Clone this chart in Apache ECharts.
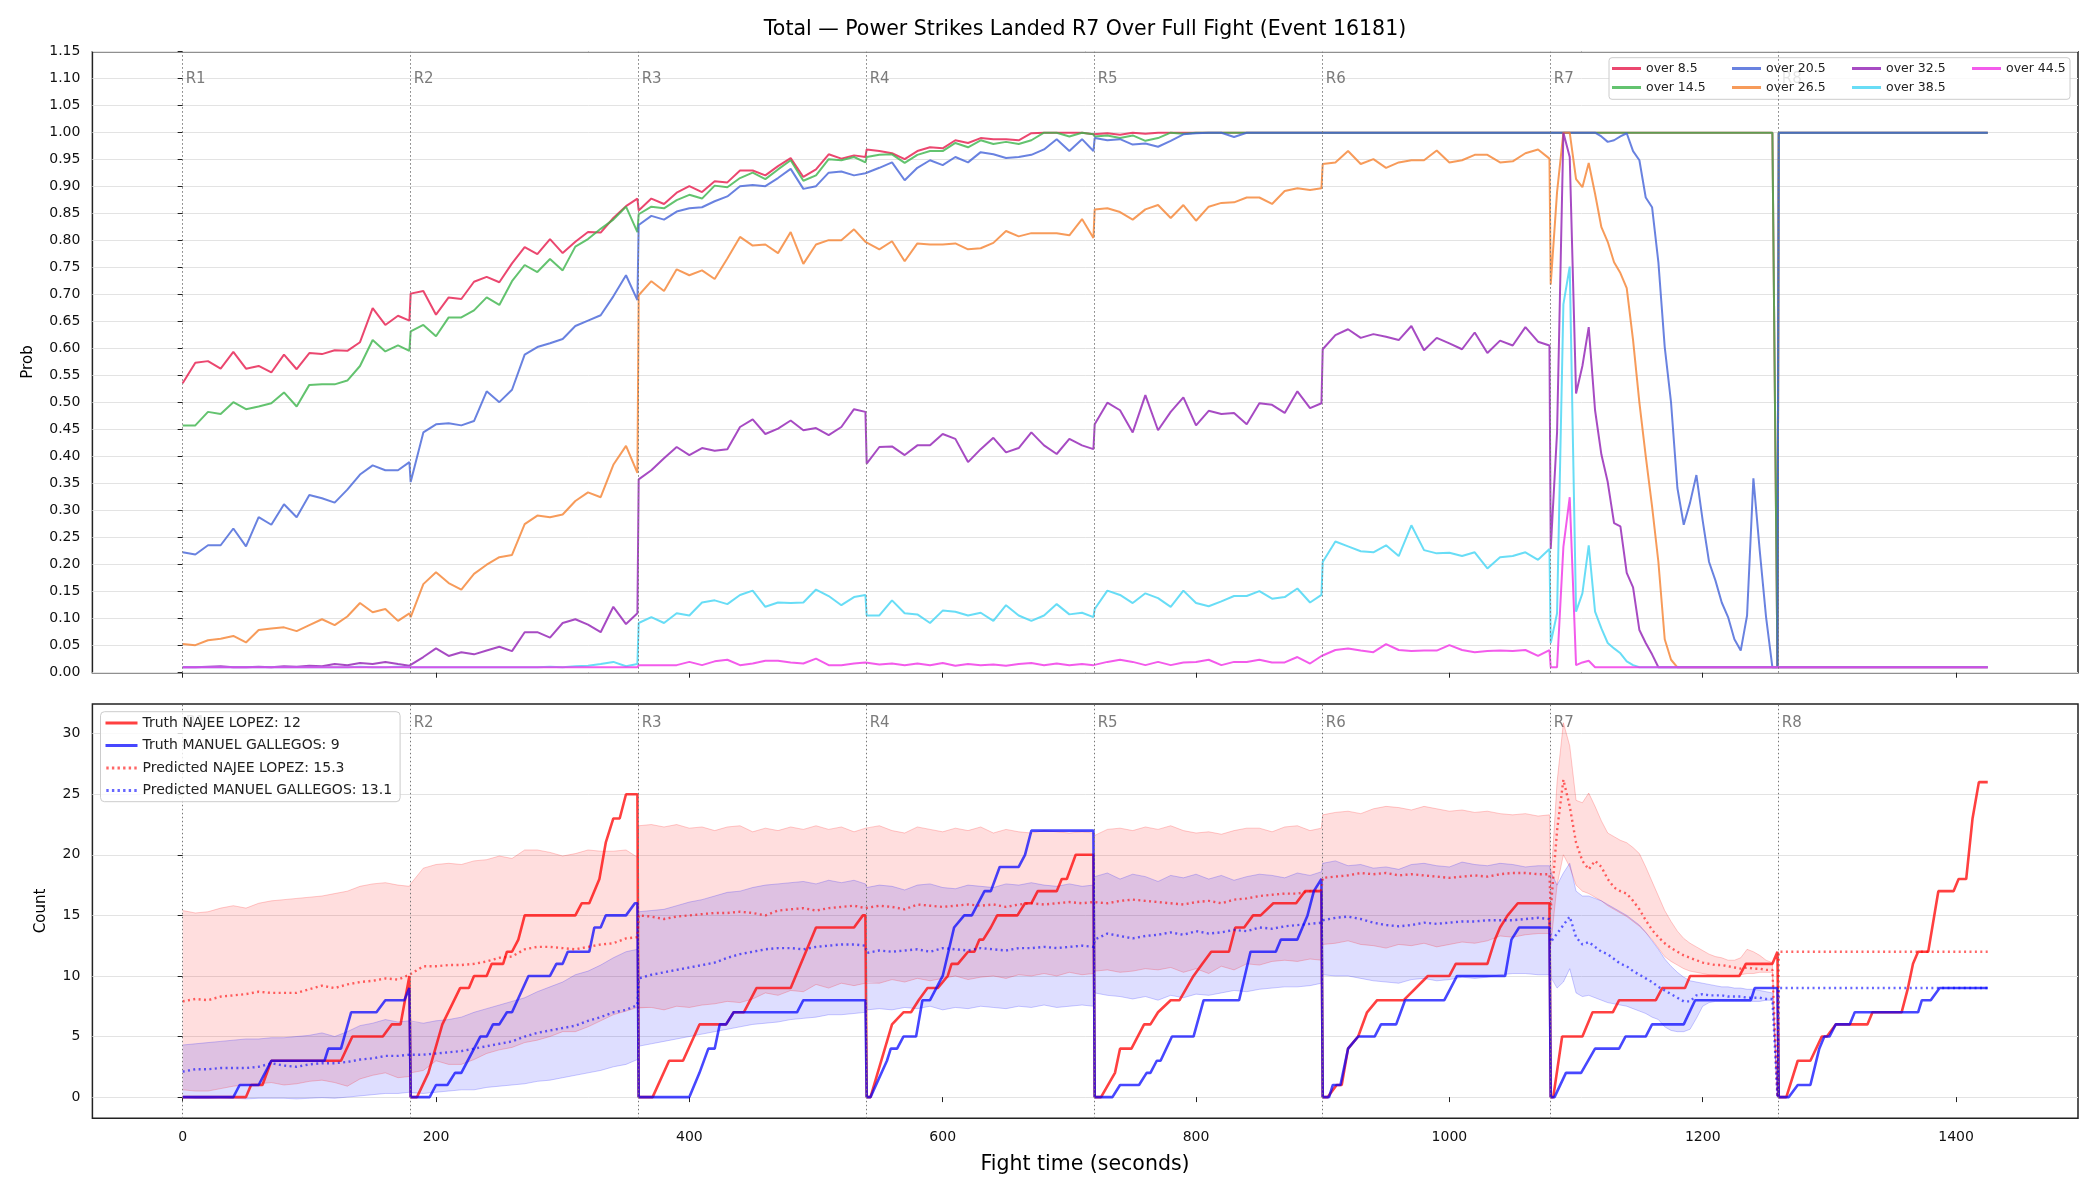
<!DOCTYPE html>
<html><head><meta charset="utf-8">
<script src="https://cdn.jsdelivr.net/npm/echarts@6.0.0/dist/echarts.min.js"></script>
<style>html,body{margin:0;padding:0;background:#fff}#c{width:2100px;height:1200px}</style>
</head><body><div id="c"></div>
<script>
const FONT = 'DejaVu Sans';
const roundStarts = [0,180,360,540,720,900,1080,1260];
const roundLabels = ['R1','R2','R3','R4','R5','R6','R7','R8'];
const xTicks = [0,200,400,600,800,1000,1200,1400];
const countTicks = [0,5,10,15,20,25,30];

// sample times (seconds) for probability / prediction curves
const tProb = [
 0,10,20,30,40,50,60,70,80,90,100,110,120,130,140,150,160,170,179,
 180,190,200,210,220,230,240,250,260,270,280,290,300,310,320,330,340,350,359,
 360,370,380,390,400,410,420,430,440,450,460,470,480,490,500,510,520,530,539,
 540,550,560,570,580,590,600,610,620,630,640,650,660,670,680,690,700,710,719,
 720,730,740,750,760,770,780,790,800,810,820,830,840,850,860,870,880,890,899,
 900,910,920,930,940,950,960,970,980,990,1000,1010,1020,1030,1040,1050,1060,1070,1079,
 1080,1085,1090,1095,1100,1105,1110,1115,1120,1125,1130,1135,1140,1145,1150,1155,1160,1165,1170,1175,
 1180,1185,1190,1195,1200,1205,1210,1215,1220,1225,1230,1235,1240,1245,1250,1255,1259,
 1260,1270,1280,1290,1300,1310,1320,1330,1340,1350,1360,1370,1380,1390,1400,1410,1420,1425
];

const over8_5 = [
 .536,.574,.577,.563,.594,.563,.568,.556,.589,.562,.592,.590,.597,.596,.612,.675,.644,.661,.652,
 .702,.707,.663,.695,.692,.724,.733,.723,.758,.788,.775,.803,.777,.798,.816,.815,.842,.864,.878,
 .856,.878,.868,.889,.901,.890,.910,.908,.930,.930,.921,.938,.953,.918,.932,.960,.952,.958,.955,
 .969,.966,.962,.951,.966,.973,.971,.986,.981,.990,.988,.988,.986,.999,1,1,1,1,.997,
 1,.999,.996,1,.998,1,1,1,1,1, 1,1,1,1,1,1,1,1,1,
 1,1,1,1,1,1,1,1,1,1, 1,1,1,1,1,1,1,1,1,
 1,1,1,1,1,1,1,1,1,1, 1,1,1,1,1,1,1,1,1,1, 1,1,1,1,1,1,1,1,1,1, 1,1,1,1,1,1,.01,
 1,1,1,1,1,1,1,1,1,1, 1,1,1,1,1,1,1,1
];
const over14_5 = [
 .458,.458,.483,.479,.501,.488,.493,.499,.519,.493,.533,.534,.534,.541,.568,.616,.595,.606,.596,
 .632,.644,.623,.658,.658,.671,.695,.681,.725,.755,.742,.766,.745,.789,.803,.822,.839,.863,.816,
 .849,.863,.860,.875,.885,.878,.902,.899,.916,.926,.914,.932,.949,.911,.921,.951,.949,.955,.945,
 .955,.959,.960,.944,.959,.966,.966,.981,.973,.986,.979,.983,.979,.986,1,1,.993,1,.997,
 .993,.995,.990,.995,.985,.990,1,.998,1,1, 1,1,1,1,1,1,1,1,1,
 1,1,1,1,1,1,1,1,1,1, 1,1,1,1,1,1,1,1,1,
 1,1,1,1,1,1,1,1,1,1, 1,1,1,1,1,1,1,1,1,1, 1,1,1,1,1,1,1,1,1,1, 1,1,1,1,1,1,.01,
 1,1,1,1,1,1,1,1,1,1, 1,1,1,1,1,1,1,1
];
const over20_5 = [
 .223,.219,.236,.236,.267,.234,.288,.274,.312,.288,.329,.323,.315,.339,.367,.384,.375,.375,.390,
 .353,.445,.460,.462,.458,.466,.521,.501,.524,.589,.603,.610,.618,.642,.652,.662,.697,.736,.690,
 .829,.846,.839,.854,.860,.862,.873,.882,.901,.903,.901,.916,.933,.896,.901,.926,.928,.921,.925,
 .928,.935,.945,.912,.935,.949,.940,.955,.945,.964,.960,.953,.955,.959,.969,.988,.966,.988,.966,
 .990,.986,.988,.978,.980,.974,.985,.997,.999,1,1,.992,1,1,1,1,1,1,1,
 1,1,1,1,1,1,1,1,1,1, 1,1,1,1,1,1,1,1,1,
 1,1,1,1,1,1,1,1,.993,.983,.986,.993,.999,.966,.949,.880,.862,.760,.603,.500,
 .342,.274,.315,.366,.281,.205,.171,.130,.103,.062,.041,.106,.360,.226,.103,.01,.01,
 1,1,1,1,1,1,1,1,1,1, 1,1,1,1,1,1,1,1
];
const over26_5 = [
 .053,.051,.060,.063,.068,.056,.079,.082,.084,.077,.088,.099,.088,.104,.129,.112,.118,.096,.110,
 .103,.164,.186,.166,.154,.183,.200,.214,.218,.275,.291,.288,.293,.318,.334,.325,.385,.420,.370,
 .699,.725,.707,.747,.736,.745,.729,.767,.807,.791,.793,.777,.816,.757,.793,.801,.801,.821,.798,
 .801,.784,.799,.762,.795,.793,.793,.795,.784,.786,.796,.818,.808,.814,.814,.814,.810,.840,.805,
 .858,.860,.853,.839,.858,.866,.842,.866,.837,.863,.870,.871,.880,.880,.868,.892,.897,.894,.897,
 .942,.945,.966,.942,.951,.935,.945,.949,.949,.967,.945,.949,.959,.959,.945,.947,.962,.969,.952,
 .719,.890,1,1,.914,.899,.944,.887,.825,.798,.760,.740,.712,.616,.500,.401,.308,.205,.062,.024,
 .01,.01,.01,.01,.01,.01,.01,.01,.01,.01, .01,.01,.01,.01,.01,.01,.01,
 .01,.01,.01,.01,.01,.01,.01,.01,.01,.01, .01,.01,.01,.01,.01,.01,.01,.01
];
const over32_5 = [
 .010,.010,.011,.012,.010,.010,.011,.010,.012,.011,.013,.012,.016,.014,.018,.016,.020,.016,.013,
 .014,.029,.045,.031,.038,.034,.041,.048,.040,.075,.075,.065,.092,.099,.089,.075,.122,.090,.110,
 .358,.375,.397,.418,.403,.416,.411,.414,.455,.469,.442,.452,.467,.449,.453,.440,.455,.488,.483,
 .387,.418,.419,.403,.421,.421,.442,.433,.390,.414,.435,.408,.416,.445,.421,.405,.433,.421,.414,
 .460,.500,.486,.445,.514,.449,.483,.510,.458,.485,.479,.481,.460,.499,.496,.481,.521,.490,.499,
 .599,.625,.636,.620,.627,.622,.616,.642,.597,.620,.610,.599,.630,.592,.615,.606,.640,.613,.606,
 .229,.445,1,.955,.517,.568,.640,.486,.404,.353,.277,.271,.185,.158,.079,.055,.034,.01,
 .01,.01,.01,.01,.01,.01,.01,.01,.01,.01, .01,.01,.01,.01,.01,.01,.01,.01,.01,
 .01,.01,.01,.01,.01,.01,.01,.01,.01,.01, .01,.01,.01,.01,.01,.01,.01,.01
];
const over38_5 = [
 .010,.010,.010,.010,.010,.010,.010,.010,.010,.010,.010,.010,.010,.010,.011,.010,.010,.011,.010,
 .010,.010,.010,.010,.010,.010,.010,.010,.010,.010,.010,.011,.010,.012,.013,.016,.020,.012,.016,
 .092,.103,.092,.110,.106,.130,.134,.127,.144,.152,.122,.130,.129,.130,.154,.142,.125,.140,.144,
 .106,.106,.134,.110,.108,.092,.115,.113,.106,.111,.096,.125,.106,.096,.106,.127,.108,.111,.103,
 .118,.152,.144,.129,.147,.138,.122,.152,.129,.123,.132,.142,.142,.151,.137,.140,.156,.130,.144,
 .205,.243,.234,.225,.223,.236,.216,.273,.227,.221,.222,.216,.223,.193,.214,.216,.223,.209,.229,
 .055,.110,.682,.752,.113,.147,.236,.113,.082,.055,.045,.036,.021,.014,
 .01,.01,.01,.01,.01,.01,.01,.01,.01,.01, .01,.01,.01,.01,.01,.01,.01,.01,.01,.01, .01,.01,.01,
 .01,.01,.01,.01,.01,.01,.01,.01,.01,.01, .01,.01,.01,.01,.01,.01,.01,.01
];
const over44_5 = [
 .010,.010,.010,.010,.010,.010,.010,.010,.010,.010,.010,.010,.010,.010,.010,.010,.010,.010,.010,
 .010,.010,.010,.010,.010,.010,.010,.010,.010,.010,.010,.010,.010,.010,.010,.010,.010,.010,.010,
 .014,.014,.014,.014,.020,.014,.021,.024,.014,.017,.022,.022,.019,.017,.026,.014,.014,.017,.019,
 .017,.015,.017,.014,.017,.014,.018,.013,.016,.014,.015,.013,.016,.018,.014,.017,.014,.016,.014,
 .014,.020,.024,.020,.014,.020,.014,.019,.020,.024,.014,.020,.020,.024,.019,.019,.029,.017,.031,
 .034,.042,.045,.041,.038,.053,.042,.040,.041,.041,.051,.042,.038,.040,.041,.040,.042,.031,.042,
 .01,.01,.233,.325,.014,.019,.022,.01,
 .01,.01,.01,.01,.01,.01,.01,.01,.01,.01, .01,.01,.01,.01,.01,.01,.01,.01,.01,.01, .01,.01,.01,.01,.01,.01,.01,.01,.01,
 .01,.01,.01,.01,.01,.01,.01,.01,.01,.01, .01,.01,.01,.01,.01,.01,.01,.01
];

// predicted totals (R1-R7 on tProb grid, then R8 points)
const tPredR8 = [1260, 1425];
const predLopez = [
 7.9,8.1,8.0,8.3,8.4,8.5,8.7,8.6,8.6,8.6,8.9,9.2,9.0,9.3,9.5,9.6,9.8,9.7,10.1,
 10.2,10.8,10.8,10.9,10.9,11.0,11.2,11.5,11.6,12.2,12.4,12.4,12.3,12.2,12.4,12.6,12.7,13.1,13.2,
 15.0,14.9,14.7,14.9,15.0,15.1,15.2,15.2,15.3,15.2,15.0,15.4,15.5,15.6,15.4,15.6,15.7,15.8,15.6,
 15.6,15.8,15.7,15.5,15.9,15.8,15.7,15.8,15.9,15.8,15.9,15.7,15.9,16.0,15.9,16.0,16.1,16.0,16.1,
 16.1,16.0,16.2,16.3,16.2,16.1,16.0,15.9,16.1,16.2,16.0,16.3,16.4,16.6,16.7,16.8,16.8,17.0,17.1,
 18.1,18.2,18.3,18.5,18.4,18.5,18.3,18.4,18.3,18.2,18.1,18.2,18.3,18.2,18.4,18.5,18.5,18.4,18.4,
 15.5,22.0,26.2,24.0,21.0,19.5,18.8,19.5,19.0,18.0,17.3,17.0,16.8,16.2,15.5,14.6,13.8,13.2,12.7,12.3,
 12.0,11.7,11.5,11.3,11.1,11.0,10.9,10.9,10.8,10.7,10.6,10.7,10.6,10.6,10.5,10.5,0,
 12,12
];
const predGallegos = [
 2.1,2.3,2.3,2.4,2.4,2.4,2.5,2.8,2.6,2.5,2.7,2.8,2.8,2.9,3.1,3.2,3.4,3.4,3.5,
 3.5,3.5,3.6,3.7,3.8,4.0,4.2,4.4,4.6,5.0,5.3,5.5,5.7,5.9,6.3,6.6,7.0,7.2,7.6,
 9.8,10.1,10.3,10.5,10.7,10.9,11.1,11.5,11.8,12.0,12.2,12.3,12.3,12.2,12.4,12.5,12.6,12.6,12.5,
 11.9,12.1,12.0,12.1,12.2,12.0,12.3,12.2,12.1,12.3,12.2,12.1,12.3,12.3,12.4,12.3,12.4,12.5,12.4,
 13.0,13.5,13.3,13.1,13.3,13.4,13.6,13.4,13.7,13.5,13.6,13.8,13.7,14.0,13.9,14.1,14.2,14.3,14.4,
 14.6,14.8,14.9,14.7,14.4,14.2,14.1,14.2,14.4,14.3,14.4,14.5,14.5,14.6,14.6,14.6,14.7,14.8,14.7,
 12.8,13.5,14.2,14.9,13.2,12.6,12.8,12.4,12.0,11.8,11.4,11.0,10.8,10.4,10.1,9.8,9.5,9.1,8.8,8.5,
 8.2,7.9,7.9,8.4,8.5,8.4,8.4,8.4,8.3,8.3,8.3,8.2,8.2,8.2,8.1,8.1,0,
 9,9
];
// uncertainty bands (R1-R7 on tProb grid)
const lopezUpper = [
 15.4,15.2,15.3,15.6,15.8,15.6,16.0,16.2,16.3,16.4,16.5,16.6,16.8,17.0,17.4,17.6,17.7,17.5,17.4,
 17.6,18.9,19.2,19.3,19.2,19.5,19.6,19.9,19.7,20.4,20.4,20.2,19.9,20.1,20.4,20.3,20.3,20.4,19.8,
 22.4,22.5,22.3,22.5,22.2,22.3,22.0,22.3,22.4,21.9,22.2,22.0,22.3,22.1,22.4,22.1,22.3,21.9,22.2,
 22.2,22.4,22.0,21.8,22.3,22.1,21.9,22.2,22.0,22.3,21.8,22.1,21.9,21.8,22.0,21.9,21.8,21.9,21.8,
 21.6,22.1,22.2,22.0,22.3,22.1,22.4,22.0,21.8,21.9,21.7,22.0,22.2,22.2,21.9,22.3,22.4,22.0,22.2,
 23.3,23.5,23.6,23.4,23.8,24.0,23.9,23.7,24.0,23.8,23.6,23.7,23.5,23.6,23.4,23.3,23.4,23.2,23.3,
 17.5,26.0,30.9,29.0,24.5,24.3,25.1,24.0,22.8,21.8,21.5,21.2,21.0,20.6,20.1,19.0,17.8,16.6,15.4,14.5,
 13.7,13.1,12.7,12.4,12.1,11.8,11.6,11.5,11.3,11.3,11.5,12.2,12.0,11.7,11.3,11.1,0
];
const lopezLower = [
 0.6,0.5,0.5,0.7,0.9,1.0,1.1,1.2,1.0,1.1,1.3,1.4,1.2,0.9,1.5,1.8,2.0,1.6,1.7,
 2.0,2.2,3.0,2.7,2.7,3.1,3.6,3.9,4.1,4.5,4.7,5.0,5.4,5.4,5.8,6.3,6.8,7.1,7.4,
 7.3,7.4,7.2,7.5,7.4,7.6,7.7,7.9,7.8,8.1,8.6,8.4,8.8,8.7,9.3,9.0,9.4,9.2,9.4,
 9.5,9.4,9.7,9.5,9.8,9.6,9.8,10.0,9.7,9.9,10.0,9.8,10.1,10.0,10.2,10.0,10.3,10.1,10.2,
 10.4,10.5,10.3,10.4,10.6,10.5,10.7,10.3,10.6,10.2,10.8,10.5,11.0,10.9,11.2,11.3,11.2,11.4,11.3,
 12.6,12.7,12.9,12.6,12.5,12.3,12.6,12.5,12.7,12.4,12.6,12.8,12.7,12.9,13.3,13.2,13.4,13.5,13.5,
 12.5,17.5,20.0,19.0,17.5,17.0,16.8,16.5,16.2,15.8,15.5,15.2,14.9,14.5,14.1,13.6,13.0,12.3,11.6,11.2,
 10.9,10.6,10.4,10.3,10.2,10.1,10.1,10.0,10.0,10.0,10.1,10.2,10.2,10.3,10.3,10.3,0
];
const gallegosUpper = [
 4.3,4.4,4.5,4.6,4.7,4.8,4.8,4.9,4.9,5.0,5.1,5.3,5.0,5.4,5.9,6.1,6.4,6.2,6.3,
 6.2,6.1,6.3,6.4,6.6,7.0,7.3,7.6,7.9,8.2,8.7,9.1,9.5,10.1,10.4,10.9,11.5,12.0,12.2,
 15.3,15.4,15.5,15.8,16.1,16.3,16.6,16.9,17.0,17.3,17.5,17.6,17.7,17.8,17.6,17.9,17.7,17.9,17.6,
 17.3,17.5,17.4,17.1,17.5,17.6,17.3,17.2,17.5,17.4,17.3,17.6,17.5,17.7,17.5,17.4,17.6,17.4,17.5,
 18.2,18.5,18.0,18.4,18.2,17.8,18.3,18.1,18.4,18.0,18.3,17.9,18.2,18.4,18.3,18.1,18.5,18.3,18.6,
 19.3,19.5,19.1,19.2,18.9,19.0,18.8,19.2,19.3,19.1,19.0,19.4,19.2,19.1,19.3,19.2,19.0,19.1,19.1,
 18.6,17.5,18.5,19.3,17.0,16.6,16.6,16.4,16.2,15.9,15.6,15.3,15.0,14.6,14.2,13.6,12.9,12.2,11.4,10.8,
 10.3,9.9,9.6,9.5,9.4,9.3,9.2,9.1,9.1,9.0,9.0,8.9,8.9,8.8,8.7,8.6,0
];
const gallegosLower = [
 0.0,-0.1,-0.1,-0.05,-0.1,-0.15,-0.1,-0.1,-0.1,-0.15,-0.1,-0.05,-0.1,0.0,0.1,0.2,0.3,0.3,0.4,
 0.3,0.3,0.4,0.5,0.6,0.6,0.8,0.9,1.0,1.1,1.3,1.4,1.6,1.8,2.0,2.2,2.5,2.7,3.1,
 4.2,4.4,4.6,4.8,5.0,5.2,5.4,5.6,5.8,6.0,6.1,6.2,6.4,6.5,6.6,6.8,6.8,6.9,7.0,
 7.2,7.3,7.2,7.4,7.3,7.5,7.2,7.4,7.3,7.5,7.4,7.3,7.5,7.4,7.6,7.4,7.5,7.6,7.5,
 8.6,8.4,8.3,8.1,8.3,8.0,8.4,8.2,8.5,8.4,8.6,8.8,8.7,8.9,9.0,9.1,9.1,9.2,9.4,
 10.1,10.0,10.0,9.8,9.6,9.5,9.4,9.7,9.8,9.6,9.7,9.9,9.8,9.9,10.1,10.2,10.2,10.1,10.1,
 10.0,9.0,9.5,10.6,8.6,8.3,8.4,8.2,8.0,7.8,7.7,7.6,7.5,7.3,7.1,6.9,6.6,6.4,5.8,5.5,
 5.4,5.4,5.6,6.5,7.5,7.8,7.9,7.9,7.9,7.9,7.9,7.9,7.9,7.9,8.0,8.0,0
];

// actual cumulative counts: [time, count] vertices
const truthLopez = [
 [0,0],[50,0],[54,1],[63,1],[70,3],[125,3],[134,5],[158,5],[165,6],[172,6],[179,10],
 [180,0],[185,0],[194,2],[205,6],[219,9],[226,9],[230,10],[240,10],[244,11],[253,11],[256,12],[260,12],[265,13],[270,15],[310,15],[315,16],[321,16],[329,18],[334,21],[340,23],[345,23],[350,25],[359,25],
 [360,0],[371,0],[384,3],[395,3],[408,6],[429,6],[435,7],[443,7],[453,9],[480,9],[500,14],[530,14],[537,15],[539,15],
 [540,0],[543,0],[560,6],[569,7],[575,7],[581,8],[588,9],[596,9],[604,10],[607,11],[612,11],[620,12],[625,12],[629,13],[632,13],[638,14],[643,15],[659,15],[665,16],[670,16],[675,17],[690,17],[694,18],[698,18],[705,20],[719,20],
 [720,0],[725,0],[736,2],[740,4],[749,4],[759,6],[764,6],[770,7],[780,8],[787,8],[798,10],[805,11],[812,12],[826,12],[831,14],[838,14],[845,15],[851,15],[861,16],[879,16],[886,17],[899,17],
 [900,0],[904,0],[911,1],[915,1],[920,4],[928,5],[935,7],[943,8],[964,8],[983,10],[1000,10],[1005,11],[1030,11],[1036,13],[1040,14],[1046,15],[1054,16],[1079,16],
 [1080,0],[1082,0],[1089,5],[1105,5],[1113,7],[1129,7],[1134,8],[1163,8],[1168,9],[1186,9],[1190,10],[1229,10],[1234,11],[1255,11],[1259,12],
 [1260,0],[1266,0],[1275,3],[1285,3],[1294,5],[1298,5],[1305,6],[1330,6],[1334,7],[1357,7],[1362,9],[1366,11],[1370,12],[1378,12],[1386,17],[1398,17],[1402,18],[1408,18],[1413,23],[1418,26],[1425,26]
];
const truthGallegos = [
 [0,0],[40,0],[45,1],[60,1],[70,3],[112,3],[115,4],[125,4],[133,7],[153,7],[160,8],[175,8],[179,9],
 [180,0],[195,0],[200,1],[209,1],[215,2],[220,2],[235,5],[240,5],[245,6],[250,6],[256,7],[260,7],[273,10],[290,10],[295,11],[300,11],[304,12],[321,12],[325,14],[330,14],[334,15],[350,15],[357,16],[359,16],
 [360,0],[400,0],[408,2],[415,4],[420,4],[424,6],[429,6],[435,7],[485,7],[490,8],[539,8],
 [540,0],[543,0],[556,3],[559,4],[564,4],[569,5],[579,5],[584,8],[590,8],[600,10],[609,14],[617,15],[623,15],[633,17],[638,17],[645,19],[660,19],[665,20],[670,22],[719,22],
 [720,0],[734,0],[740,1],[755,1],[761,2],[764,2],[769,3],[772,3],[781,5],[798,5],[806,8],[834,8],[843,12],[863,12],[867,13],[880,13],[884,14],[888,15],[893,17],[899,18],
 [900,0],[905,0],[908,1],[914,1],[920,4],[928,5],[941,5],[946,6],[958,6],[965,8],[996,8],[1001,9],[1006,10],[1044,10],[1049,13],[1055,14],[1079,14],
 [1080,0],[1083,0],[1092,2],[1104,2],[1115,4],[1134,4],[1139,5],[1155,5],[1160,6],[1185,6],[1194,8],[1238,8],[1241,9],[1259,9],
 [1260,0],[1268,0],[1275,1],[1285,1],[1292,4],[1296,5],[1300,5],[1305,6],[1316,6],[1320,7],[1370,7],[1373,8],[1380,8],[1387,9],[1425,9]
];

const probNames = ['over 8.5','over 14.5','over 20.5','over 26.5','over 32.5','over 38.5','over 44.5'];
const probColors = ['#e6194b','#3cb44b','#4363d8','#f58231','#911eb4','#42d4f4','#f032e6'];
const probData = [over8_5, over14_5, over20_5, over26_5, over32_5, over38_5, over44_5];

const nameLopezT = 'Truth NAJEE LOPEZ: 12';
const nameGallegosT = 'Truth MANUEL GALLEGOS: 9';
const nameLopezP = 'Predicted NAJEE LOPEZ: 15.3';
const nameGallegosP = 'Predicted MANUEL GALLEGOS: 13.1';

// ---------- build ----------
const tBand = tProb.slice(0, 151);
const tPred = tBand.concat(tPredR8);
const pairs = (ts, vs) => vs.map((v, i) => [ts[i], v]);

let warn = '';
probData.forEach((a, i) => { if (a.length !== tProb.length) warn += probNames[i] + ':' + a.length + ' '; });
[[predLopez, tPred],[predGallegos, tPred],[lopezUpper,tBand],[lopezLower,tBand],[gallegosUpper,tBand],[gallegosLower,tBand]].forEach((p, i) => { if (p[0].length !== p[1].length) warn += 'b' + i + ':' + p[0].length + ' '; });

const XMIN = -71.25, XMAX = 1496.25;
const axisFont = {fontFamily: FONT, fontSize: 14, color: '#111'};

const series = [];
function roundSeries(xi, yv) {
  return {
    type: 'scatter', xAxisIndex: xi, yAxisIndex: xi, z: 1, silent: true,
    symbolSize: 0, animation: false,
    data: roundStarts.map((t, i) => [t, yv, roundLabels[i]]),
    label: {show: true, position: 'right', distance: 3, formatter: p => p.data[2], color: '#5a5a5a', fontSize: 15, fontFamily: FONT},
    markLine: {silent: true, symbol: ['none','none'], animation: false, label: {show: false},
      lineStyle: {color: '#777', type: [1.5, 2.5], width: 1},
      data: roundStarts.map(t => ({xAxis: t}))}
  };
}
series.push(roundSeries(0, 1.10));
series.push(roundSeries(1, 30.85));

probNames.forEach((n, i) => series.push({
  type: 'line', name: n, xAxisIndex: 0, yAxisIndex: 0, z: 2,
  data: pairs(tProb, probData[i]), symbol: 'none', showSymbol: false,
  lineStyle: {width: 2, color: probColors[i], opacity: 0.8},
  itemStyle: {color: probColors[i], opacity: 0.8}
}));

// band polygon drawn via library coordinates
function bandSeries(lo, up, rgb) {
  const fill = {
    type: 'custom', xAxisIndex: 1, yAxisIndex: 1, z: 2, silent: true,
    data: [[tBand[0], lo[0]]],
    renderItem: function (params, api) {
      const pts = [];
      for (let i = 0; i < tBand.length; i++) pts.push(api.coord([tBand[i], up[i]]));
      for (let i = tBand.length - 1; i >= 0; i--) pts.push(api.coord([tBand[i], lo[i]]));
      return {type: 'polygon', shape: {points: pts}, style: {fill: 'rgba(' + rgb + ',0.13)', stroke: null}};
    }
  };
  const edge = arr => ({
    type: 'line', xAxisIndex: 1, yAxisIndex: 1, z: 2, silent: true, data: pairs(tBand, arr),
    symbol: 'none', lineStyle: {width: 1, color: 'rgba(' + rgb + ',0.2)'}
  });
  return [fill, edge(lo), edge(up)];
}
series.push(...bandSeries(lopezLower, lopezUpper, '255,0,0'));
series.push(...bandSeries(gallegosLower, gallegosUpper, '0,0,255'));

series.push({type: 'line', name: nameLopezT, xAxisIndex: 1, yAxisIndex: 1, z: 3, data: truthLopez, symbol: 'none',
  lineStyle: {width: 2.6, color: 'rgba(255,0,0,0.75)'}, itemStyle: {color: 'rgba(255,0,0,0.75)'}});
series.push({type: 'line', name: nameGallegosT, xAxisIndex: 1, yAxisIndex: 1, z: 3, data: truthGallegos, symbol: 'none',
  lineStyle: {width: 2.6, color: 'rgba(0,0,255,0.72)'}, itemStyle: {color: 'rgba(0,0,255,0.72)'}});
series.push({type: 'line', name: nameLopezP, xAxisIndex: 1, yAxisIndex: 1, z: 3, data: pairs(tPred, predLopez), symbol: 'none',
  lineStyle: {width: 2.4, type: [2, 3.4], color: 'rgba(255,0,0,0.6)'}, itemStyle: {color: 'rgba(255,0,0,0.6)'}});
series.push({type: 'line', name: nameGallegosP, xAxisIndex: 1, yAxisIndex: 1, z: 3, data: pairs(tPred, predGallegos), symbol: 'none',
  lineStyle: {width: 2.4, type: [2, 3.4], color: 'rgba(0,0,255,0.6)'}, itemStyle: {color: 'rgba(0,0,255,0.6)'}});

const dottedIcon = 'path://M0,0h2.4v3h-2.4z M5.6,0h2.4v3h-2.4z M11.2,0h2.4v3h-2.4z M16.8,0h2.4v3h-2.4z M22.4,0h2.4v3h-2.4z M28,0h2.4v3h-2.4z';

const topCols = [['over 8.5','over 14.5'],['over 20.5','over 26.5'],['over 32.5','over 38.5'],['over 44.5']];
const topColLeft = [1612, 1732, 1852, 1972];
const legends = topCols.map((d, i) => ({
  data: d.map(n => ({name: n, icon: 'rect'})), left: topColLeft[i], top: 61, orient: 'vertical', padding: 0, itemGap: 4,
  itemWidth: 29, itemHeight: 3, selectedMode: false, z: 6,
  textStyle: {fontSize: 12.5, fontFamily: FONT, color: '#222', lineHeight: 15}
}));
legends.push({
  data: [{name: nameLopezT, icon: 'rect'}, {name: nameGallegosT, icon: 'rect'},
         {name: nameLopezP, icon: dottedIcon}, {name: nameGallegosP, icon: dottedIcon}],
  left: 100.5, top: 711.7, orient: 'vertical', padding: [3, 8, 3, 5], itemGap: 6,
  itemWidth: 32, itemHeight: 3, selectedMode: false, z: 6,
  backgroundColor: 'rgba(255,255,255,0.8)', borderColor: '#cccccc', borderWidth: 1, borderRadius: 4,
  textStyle: {fontSize: 14, fontFamily: FONT, color: '#222', lineHeight: 16.5}
});

function xAxis(gi, showLabels) {
  return {
    type: 'value', gridIndex: gi, min: XMIN, max: XMAX, minInterval: 200, maxInterval: 200,
    axisLine: {show: false},
    axisTick: {show: true, inside: false, length: 5, lineStyle: {color: '#222', width: 1}, customValues: xTicks},
    axisLabel: Object.assign({show: showLabels, margin: 12, customValues: xTicks, formatter: v => String(v)}, axisFont),
    splitLine: {show: false}
  };
}

const option = {
  animation: false,
  backgroundColor: '#ffffff',
  textStyle: {fontFamily: FONT},
  grid: [
    {left: 92.4, top: 51.7, width: 1985.6, height: 621, show: true, borderColor: '#222', borderWidth: 1.5},
    {left: 92.4, top: 704, width: 1985.6, height: 414.3, show: true, borderColor: '#222', borderWidth: 1.5}
  ],
  xAxis: [xAxis(0, false), xAxis(1, true)],
  yAxis: [
    {type: 'value', gridIndex: 0, min: 0, max: 1.15, interval: 0.05,
     axisLine: {show: false}, axisTick: {show: true, length: 5, lineStyle: {color: '#222'}},
     axisLabel: Object.assign({margin: 12, formatter: v => v.toFixed(2)}, axisFont),
     splitLine: {show: true, lineStyle: {color: '#e3e3e3', width: 1}}},
    {type: 'value', gridIndex: 1, min: -1.75, max: 32.45, minInterval: 5, maxInterval: 5,
     axisLine: {show: false},
     axisTick: {show: true, length: 5, lineStyle: {color: '#222'}, customValues: countTicks},
     axisLabel: Object.assign({margin: 12, customValues: countTicks, formatter: v => String(v)}, axisFont),
     splitLine: {show: true, lineStyle: {color: '#e3e3e3', width: 1}}}
  ],
  legend: legends,
  graphic: [
    {type: 'text', x: 1085, y: 30, z: 10, style: {text: 'Total — Power Strikes Landed R7 Over Full Fight (Event 16181)' + (warn ? ' ' + warn : ''),
      fontSize: 20.5, fontFamily: FONT, fill: '#000', textAlign: 'center', textVerticalAlign: 'middle', align: 'center', verticalAlign: 'middle'}},
    {type: 'text', x: 1085, y: 1165, z: 10, style: {text: 'Fight time (seconds)',
      fontSize: 20.5, fontFamily: FONT, fill: '#000', textAlign: 'center', textVerticalAlign: 'middle', align: 'center', verticalAlign: 'middle'}},
    {type: 'text', x: 28, y: 362, rotation: Math.PI / 2, z: 10, style: {text: 'Prob',
      fontSize: 15, fontFamily: FONT, fill: '#000', textAlign: 'center', textVerticalAlign: 'middle', align: 'center', verticalAlign: 'middle'}},
    {type: 'text', x: 41, y: 911, rotation: Math.PI / 2, z: 10, style: {text: 'Count',
      fontSize: 15, fontFamily: FONT, fill: '#000', textAlign: 'center', textVerticalAlign: 'middle', align: 'center', verticalAlign: 'middle'}},
    {type: 'rect', z: 3, shape: {x: 1609, y: 57.7, width: 461, height: 41.6, r: 3},
      style: {fill: 'rgba(255,255,255,0.8)', stroke: '#cccccc', lineWidth: 1}}
  ],
  series: series
};

const chart = echarts.init(document.getElementById('c'), null, {renderer: 'canvas', width: 2100, height: 1200});
chart.setOption(option);
</script>
</body></html>
